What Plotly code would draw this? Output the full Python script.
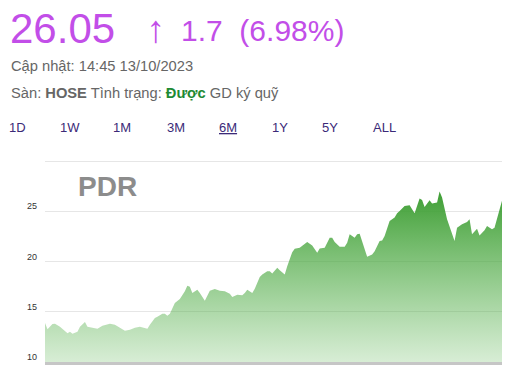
import pandas as pd
import plotly.graph_objects as go

# ---------------- data ----------------
start_date = "2023-04-13"
day_offsets = [0, 1, 3, 4, 6, 9, 10, 11, 13, 14, 16, 17, 19, 21, 23, 26, 28, 30, 32, 34,
               36, 38, 40, 41, 42, 44, 45, 47, 48, 49, 50, 52, 54, 56, 57, 58, 59, 61, 62, 64,
               66, 68, 70, 72, 74, 75, 77, 79, 80, 81, 83, 84, 86,
               87, 89, 90, 91, 93, 94, 96, 97, 99, 100, 102, 105, 106, 107, 109, 110, 112, 114,
               115, 116, 118, 120, 121, 122, 124, 125, 126, 128, 129, 131, 132, 134, 135, 136,
               138, 140, 141, 142, 144, 146, 148, 150, 151, 152, 154, 155, 157, 158, 159, 161,
               163, 164, 165, 167, 169, 170, 171, 173, 174, 176, 177, 179, 180, 181, 183]
prices = [13.87, 13.27, 13.77, 13.8, 13.5, 12.87, 13.0, 12.8, 13.0, 13.5,
          13.97, 13.5, 13.4, 13.3, 13.6, 13.8, 13.7, 13.4, 13.1, 13.2,
          13.4, 13.5, 13.4, 13.3, 13.7, 14.37, 14.5, 14.8, 14.8, 14.6,
          14.8, 15.87, 16.27, 17.03, 17.6, 17.5, 16.87, 17.2, 16.87, 16.1,
          17.1, 17.27, 17.1, 17.03, 16.8, 16.47, 16.7, 16.63, 16.87, 17.2,
          16.87, 17.3, 18.45,
          18.7, 19.03, 19.03, 18.8, 19.37, 19.13, 18.7, 19.53, 20.93, 21.27,
          21.37, 21.93, 21.8, 21.6, 20.87, 21.3, 21.37, 22.37, 22.37, 21.93,
          21.47, 21.47, 21.87, 22.7, 22.37, 22.7, 22.77, 21.27, 20.47, 20.7,
          21.03, 22.03, 22.1, 22.53, 24.03, 24.37, 24.8, 25.03, 25.53, 25.6,
          24.8, 26.27, 26.13, 25.43, 26.1, 25.77, 25.87, 26.97, 26.37, 24.2,
          22.87, 22.03, 23.37, 23.7, 23.93, 24.2, 22.7, 23.27, 22.6, 23.1,
          23.53, 23.2, 23.37, 24.2, 26.05]
tick_values = [10, 15, 20, 25, 30]
tick_labels = ["10", "15", "20", "25", ""]
y_range = [10, 30.3]
tabs = ["1D", "1W", "1M", "3M", "6M", "1Y", "5Y", "ALL"]
symbol = "PDR"
last_price = "26.05"
change_value = "1.7  (6.98%)"

dates = pd.to_datetime(start_date) + pd.to_timedelta(day_offsets, unit="D")

# ---------------- figure ----------------
W, H = 514, 373
L, R, T, B = 45, 12, 158, 11
PW, PH = W - L - R, H - T - B
FONT = "Liberation Sans, Arial, sans-serif"


def px2paper(px, py):
    return (px - L) / PW, (H - B - py) / PH


fig = go.Figure()
fig.add_trace(go.Scatter(
    x=dates, y=prices, mode="lines",
    line=dict(width=0, color="rgba(64,160,54,1)"),
    fill="tozeroy",
    fillgradient=dict(type="vertical", start=10, stop=27,
                      colorscale=[[0, "rgba(90,180,80,0.24)"],
                                  [0.5, "rgba(78,170,68,0.63)"],
                                  [1, "rgba(62,158,52,1)"]]),
    hoverinfo="skip", showlegend=False,
))

annotations = []


def ann(text, px, py, size, color, xanchor="left", bold=False, family=FONT):
    x, y = px2paper(px, py)
    if bold:
        text = "<b>" + text + "</b>"
    annotations.append(dict(text=text, x=x, y=y, xref="paper", yref="paper",
                            xanchor=xanchor, yanchor="middle", showarrow=False,
                            font=dict(family=family, size=size, color=color)))


purple = "#c24ee8"
ann(last_price, 8, 28, 42, purple)
ann("↑", 144, 29, 38, purple)
ann(change_value, 179, 30, 30, purple)
ann("Cập nhật: 14:45 13/10/2023", 9, 66, 14.7, "#666666")
ann("Sàn: <b>HOSE</b> Tình trạng: <b><span style='color:#1e8a34'>Được</span></b> GD ký quỹ",
    9, 93, 14.7, "#666666")
tab_x = [7, 58, 111, 165, 217, 270, 320, 371]
for t, tx in zip(tabs, tab_x):
    txt = "<u>" + t + "</u>" if t == "6M" else t
    ann(txt, tx, 127, 13, "#3b2a78")
ann(symbol, 76, 186, 28, "#8c8c8c", bold=True)

fig.update_layout(
    width=W, height=H,
    margin=dict(l=L, r=R, t=T, b=B, pad=0, autoexpand=False),
    paper_bgcolor="white", plot_bgcolor="white",
    annotations=annotations,
    xaxis=dict(range=[dates[0], dates[-1]], showgrid=False, showticklabels=False,
               zeroline=False, showline=True, linecolor="#c6c6c6", linewidth=3,
               ticks="", automargin=False),
    yaxis=dict(range=y_range, tickvals=tick_values, ticktext=tick_labels,
               showgrid=True, gridcolor="#e6e6e6", gridwidth=1, zeroline=False,
               showline=False, ticks="", ticklabelshift=-5, ticklabelstandoff=7,
               automargin=False,
               tickfont=dict(family=FONT, size=9, color="#333333")),
    font=dict(family=FONT),
)

fig.write_html("out.html")
